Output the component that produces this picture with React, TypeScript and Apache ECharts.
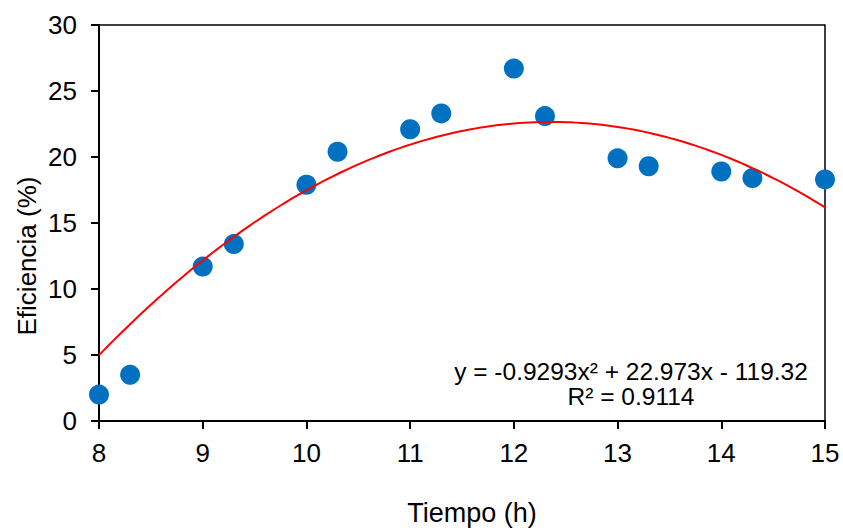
import React, { useEffect, useRef } from "react";
import * as echarts from "echarts";

const timeHours = [8, 8.3, 9, 9.3, 10, 10.3, 11, 11.3, 12, 12.3, 13, 13.3, 14, 14.3, 15];
const efficiency = [2.0, 3.5, 11.7, 13.4, 17.9, 20.4, 22.1, 23.3, 26.7, 23.1, 19.9, 19.3, 18.9, 18.4, 18.3];
// Polynomial trendline coefficients as printed on the chart: a x^2 + b x + c
const trendCoefficients = [-0.9293, 22.973, -119.32];
const trendRange = [8, 15];
const equationLines = ["y = -0.9293x\u00B2 + 22.973x - 119.32", "R\u00B2 = 0.9114"];
const xTitle = "Tiempo (h)";
const yTitle = "Eficiencia (%)";

function trendPoints(): number[][] {
  const [a, b, c] = trendCoefficients;
  const pts: number[][] = [];
  const steps = 140;
  for (let i = 0; i <= steps; i++) {
    const x = trendRange[0] + ((trendRange[1] - trendRange[0]) * i) / steps;
    pts.push([x, a * x * x + b * x + c]);
  }
  return pts;
}

const FONT = "'Liberation Sans', Arial, sans-serif";

export default function App() {
  const ref = useRef<HTMLDivElement>(null);
  useEffect(() => {
    if (!ref.current) return;
    const chart = echarts.init(ref.current, undefined, { renderer: "svg" });
    chart.setOption({
      animation: false,
      backgroundColor: "#ffffff",
      textStyle: { fontFamily: FONT, color: "#000" },
      grid: {
        left: 99,
        right: 18,
        top: 25,
        bottom: 111,
        show: true,
        borderColor: "#000",
        borderWidth: 1.5,
        containLabel: false,
      },
      xAxis: {
        type: "value",
        min: 8,
        max: 15,
        interval: 1,
        axisLine: { show: true, onZero: false, lineStyle: { color: "#000", width: 2 } },
        axisTick: { show: true, length: 8, lineStyle: { color: "#000", width: 2 } },
        axisLabel: { color: "#000", fontSize: 26, fontFamily: FONT, margin: 19 },
        splitLine: { show: false },
      },
      yAxis: {
        type: "value",
        min: 0,
        max: 30,
        interval: 5,
        axisLine: { show: true, lineStyle: { color: "#000", width: 2 } },
        axisTick: { show: true, length: 8, lineStyle: { color: "#000", width: 2 } },
        axisLabel: { color: "#000", fontSize: 26, fontFamily: FONT, margin: 22 },
        splitLine: { show: false },
      },
      series: [
        {
          type: "scatter",
          data: timeHours.map((t, i) => [t, efficiency[i]]),
          symbol: "circle",
          symbolSize: 20,
          itemStyle: { color: "#0070C0", opacity: 1 },
          z: 2,
        },
        {
          type: "line",
          data: trendPoints(),
          showSymbol: false,
          symbol: "none",
          lineStyle: { color: "#FF0000", width: 2 },
          z: 3,
        },
      ],
      graphic: [
        {
          type: "text",
          x: 472,
          y: 513,
          style: {
            text: xTitle,
            fontSize: 27,
            fontFamily: FONT,
            fill: "#000",
            align: "center",
            verticalAlign: "middle",
          },
        },
        {
          type: "text",
          x: 27,
          y: 256,
          rotation: Math.PI / 2,
          style: {
            text: yTitle,
            fontSize: 26,
            fontFamily: FONT,
            fill: "#000",
            align: "center",
            verticalAlign: "middle",
          },
        },
        {
          type: "text",
          x: 631,
          y: 371,
          style: {
            text: equationLines[0],
            fontSize: 24.5,
            fontFamily: FONT,
            fill: "#000",
            align: "center",
            verticalAlign: "middle",
          },
        },
        {
          type: "text",
          x: 631,
          y: 396,
          style: {
            text: equationLines[1],
            fontSize: 24.5,
            fontFamily: FONT,
            fill: "#000",
            align: "center",
            verticalAlign: "middle",
          },
        },
      ],
    });
    return () => chart.dispose();
  }, []);
  return (
    <div
      ref={ref}
      style={{ position: "fixed", left: 0, top: 0, width: 843, height: 532 }}
    />
  );
}
